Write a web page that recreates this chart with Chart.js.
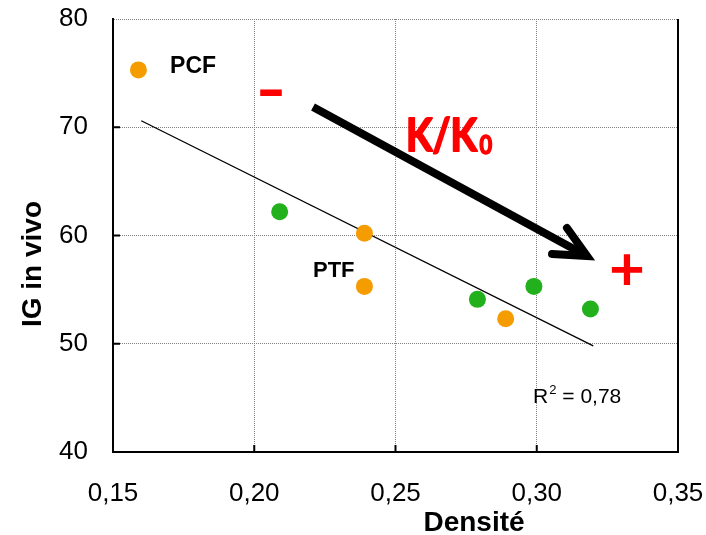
<!DOCTYPE html>
<html>
<head>
<meta charset="utf-8">
<script src="https://cdn.jsdelivr.net/npm/chart.js@4.4.0/dist/chart.umd.min.js"></script>
<style>
  html, body { margin: 0; padding: 0; background: #fff; }
  #wrap { width: 706px; height: 535px; }
</style>
</head>
<body>
<div id="wrap"><canvas id="chart"></canvas></div>
<script>
// IG in vivo against density, two product groups plus linear fit
const orangeX = [0.159, 0.239, 0.239, 0.289];
const orangeY = [75.3, 60.2, 55.3, 52.3];
const greenX = [0.209, 0.279, 0.299, 0.319];
const greenY = [62.2, 54.1, 55.3, 53.2];
const trendX = [0.16, 0.32];
const trendY = [70.6, 49.8];
const xTicks = [0.15, 0.20, 0.25, 0.30, 0.35];
const yTicks = [40, 50, 60, 70, 80];
const rSquared = '0,78';

const ORANGE = '#F59C00';
const GREEN = '#22B11C';
const RED = '#FF0000';
const SANS = '"Liberation Sans", Arial, sans-serif';
const CAL = 'Lato, "Open Sans", sans-serif';

function toPoints(xs, ys) {
    return xs.map((x, i) => ({ x: x, y: ys[i] }));
}

function fmtComma(v, digits) {
    return v.toFixed(digits).replace('.', ',');
}

// fixed axis box size, no extra room for overhanging labels
function fixBox(s, w, h) {
    if (w) s.width = w;
    if (h) s.height = h;
    s.paddingLeft = 0;
    s.paddingRight = 0;
    s.paddingTop = 0;
    s.paddingBottom = 0;
}

// filled text with a thin outline of the same colour, for a heavier look
function heavyText(ctx, s, x, y, w) {
    ctx.fillText(s, x, y);
    ctx.lineWidth = w;
    ctx.strokeText(s, x, y);
}

/**
 * Draws frame, inward ticks, axis titles, labels and the arrow
 */
const overlay = {
    id: 'overlay',
    afterDraw(chart) {
        const ctx = chart.ctx;
        const xs = chart.scales.x;
        const ys = chart.scales.y;
        const area = chart.chartArea;
        const px = v => xs.getPixelForValue(v);
        const py = v => ys.getPixelForValue(v);

        ctx.save();

        // right frame line
        ctx.strokeStyle = '#000';
        ctx.lineWidth = 2;
        ctx.beginPath();
        ctx.moveTo(area.right, area.top);
        ctx.lineTo(area.right, area.bottom + 1);
        ctx.stroke();

        // small inward tick marks
        ctx.lineWidth = 2;
        ctx.beginPath();
        xTicks.slice(1, -1).forEach(v => {
            ctx.moveTo(px(v), area.bottom);
            ctx.lineTo(px(v), area.bottom - 7);
        });
        yTicks.slice(1, -1).forEach(v => {
            ctx.moveTo(area.left, py(v));
            ctx.lineTo(area.left + 7, py(v));
        });
        ctx.stroke();

        // axis titles
        ctx.fillStyle = '#000';
        ctx.font = 'bold 28px ' + SANS;
        ctx.textAlign = 'center';
        ctx.textBaseline = 'alphabetic';
        ctx.fillText('Densité', 474, 531);

        ctx.save();
        ctx.translate(41, 264);
        ctx.rotate(-Math.PI / 2);
        ctx.fillText('IG in vivo', 0, 0);
        ctx.restore();

        // group labels
        ctx.textAlign = 'left';
        ctx.font = 'bold 23px ' + SANS;
        ctx.fillText('PCF', px(0.1702), py(75.0));
        ctx.font = 'bold 22px ' + SANS;
        ctx.fillText('PTF', px(0.2208), py(56.17));

        // R² of the fit
        ctx.font = '21px ' + SANS;
        let rx = px(0.2987);
        const ry = py(44.5);
        ctx.fillText('R', rx, ry);
        rx += ctx.measureText('R').width;
        ctx.font = '13px ' + SANS;
        ctx.fillText('2', rx + 1, ry - 9);
        rx += ctx.measureText('2').width + 1;
        ctx.font = '21px ' + SANS;
        ctx.fillText(' = ' + rSquared, rx, ry);

        // K/K0 direction arrow
        ctx.strokeStyle = '#000';
        ctx.lineWidth = 8;
        ctx.lineCap = 'butt';
        const sx = px(0.2208), sy = py(71.87);
        const tx = px(0.3178), ty = py(58.11);
        ctx.beginPath();
        ctx.moveTo(sx, sy);
        ctx.lineTo(tx - 4, ty - 2);
        ctx.stroke();
        ctx.lineCap = 'round';
        ctx.lineJoin = 'miter';
        ctx.beginPath();
        ctx.moveTo(px(0.3107), py(60.69));
        ctx.lineTo(tx, ty);
        ctx.lineTo(px(0.3054), py(58.29));
        ctx.stroke();

        // red annotations, K/K0 set a little condensed
        ctx.fillStyle = RED;
        ctx.strokeStyle = RED;
        ctx.lineJoin = 'round';
        ctx.textAlign = 'left';
        const kx = px(0.2537), ky = py(67.8);
        ctx.save();
        ctx.translate(kx, ky);
        ctx.scale(0.84, 1);
        ctx.font = 'bold 46px ' + CAL;
        heavyText(ctx, 'K/K', 0, 0, 2);
        const kw = ctx.measureText('K/K').width;
        ctx.font = 'bold 26px ' + CAL;
        heavyText(ctx, '0', kw + 3, 3, 1.5);
        ctx.restore();

        ctx.textAlign = 'center';
        ctx.textBaseline = 'middle';
        ctx.save();
        ctx.translate(px(0.2059), py(73.3));
        ctx.scale(1.3, 1);
        ctx.font = 'bold 64px ' + CAL;
        ctx.fillText('-', 0, 0);
        ctx.restore();
        ctx.font = 'bold 62px ' + CAL;
        ctx.fillText('+', px(0.3319), py(56.8));

        ctx.restore();
    }
};

const chart = new Chart(document.getElementById('chart').getContext('2d'), {
    type: 'scatter',
    data: {
        datasets: [
            {
                label: 'orange',
                data: toPoints(orangeX, orangeY),
                backgroundColor: ORANGE,
                borderWidth: 0,
                pointRadius: 8.5,
                pointHoverRadius: 8.5
            },
            {
                label: 'green',
                data: toPoints(greenX, greenY),
                backgroundColor: GREEN,
                borderWidth: 0,
                pointRadius: 8.5,
                pointHoverRadius: 8.5
            },
            {
                label: 'fit',
                type: 'line',
                data: toPoints(trendX, trendY),
                borderColor: '#000',
                borderWidth: 1.3,
                pointRadius: 0,
                fill: false
            }
        ]
    },
    options: {
        responsive: true,
        maintainAspectRatio: false,
        animation: false,
        devicePixelRatio: 1,
        layout: { padding: { left: 0, right: 28, top: 19, bottom: 0 } },
        plugins: {
            legend: { display: false },
            tooltip: { enabled: false }
        },
        scales: {
            x: {
                type: 'linear',
                min: 0.15,
                max: 0.35,
                afterBuildTicks: s => { s.ticks = xTicks.map(v => ({ value: v })); },
                afterFit: s => fixBox(s, 0, 83),
                ticks: {
                    padding: 26,
                    color: '#000',
                    font: { family: SANS, size: 26 },
                    callback: v => fmtComma(v, 2)
                },
                grid: { color: '#808080', lineWidth: 1, drawTicks: false },
                border: { color: '#000', width: 2, dash: [1, 1] }
            },
            y: {
                min: 40,
                max: 80,
                afterBuildTicks: s => { s.ticks = yTicks.map(v => ({ value: v })); },
                afterFit: s => fixBox(s, 113, 0),
                ticks: {
                    padding: 25,
                    color: '#000',
                    font: { family: SANS, size: 26 },
                    callback: v => String(v)
                },
                grid: { color: '#808080', lineWidth: 1, drawTicks: false },
                border: { color: '#000', width: 2, dash: [1, 1] }
            }
        }
    },
    plugins: [overlay]
});
</script>
</body>
</html>
